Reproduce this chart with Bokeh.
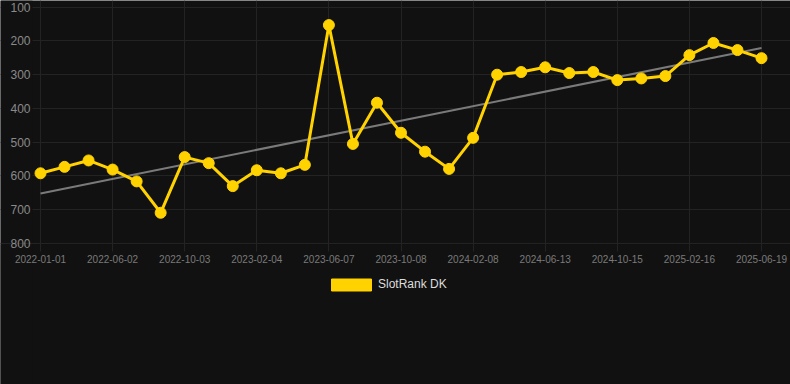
import numpy as np
from bokeh.plotting import figure
from bokeh.models import Range1d, FixedTicker, Legend, LegendItem, ColumnDataSource, BoxAnnotation
from bokeh.embed import file_html
from bokeh.resources import INLINE

# ---- data ----
tick_labels = ["2022-01-01", "2022-06-02", "2022-10-03", "2023-02-04", "2023-06-07",
               "2023-10-08", "2024-02-08", "2024-06-13", "2024-10-15", "2025-02-16",
               "2025-06-19"]
rank_values = [592, 573, 554, 581, 616, 709, 544, 562, 630, 583, 592, 567, 153,
               505, 383, 472, 528, 579, 487, 300, 292, 278, 295, 292, 316, 311,
               304, 242, 206, 227, 251]
series_name = "SlotRank DK"
y_ticks = [100, 200, 300, 400, 500, 600, 700, 800]

idx = list(range(len(rank_values)))
tick_positions = idx[::3]

# trend line (least squares)
slope, intercept = np.polyfit(idx, rank_values, 1)
trend_x = [idx[0], idx[-1]]
trend_y = [intercept + slope * x for x in trend_x]

BG = "#111111"
GRID = "#232323"
GOLD = "#FFD200"
FONT = "Liberation Sans"

W, H = 790, 384
# pixel layout of the value area: index 0 at px 40, index 30 at px 761;
# value 100 at px 6.7, value 800 at px 243
px_per_x = (761 - 40) / 30.0
px_per_y = (243 - 6.7) / 700.0
X0 = -40 / px_per_x
X1 = (W - 40) / px_per_x
Y_TOP = 100 - 6.7 / px_per_y
Y_BOTTOM = 100 + (H - 6.7) / px_per_y
X_AXIS_AT = (32 - 40) / px_per_x

p = figure(width=W, height=H, output_backend="svg", toolbar_location=None,
           x_range=Range1d(X0, X1), y_range=Range1d(Y_BOTTOM, Y_TOP),
           min_border_left=0, min_border_right=0, min_border_top=0,
           min_border_bottom=0)
p.background_fill_color = BG
p.border_fill_color = BG
p.outline_line_color = None

# grids
p.xgrid.ticker = FixedTicker(ticks=tick_positions)
p.ygrid.ticker = FixedTicker(ticks=y_ticks)
p.xgrid.grid_line_color = GRID
p.ygrid.grid_line_color = GRID

# mask the grid outside the value area
p.add_layout(BoxAnnotation(top=803, bottom=Y_BOTTOM, left=X0, right=X1,
                           fill_color=BG, fill_alpha=1.0, line_color=None,
                           line_alpha=0, level="underlay"))
p.add_layout(BoxAnnotation(top=Y_TOP, bottom=Y_BOTTOM, left=X0, right=X_AXIS_AT,
                           fill_color=BG, fill_alpha=1.0, line_color=None,
                           line_alpha=0, level="underlay"))

# x axis, drawn at value 800
p.xaxis.fixed_location = 800
p.xaxis.ticker = FixedTicker(ticks=tick_positions)
p.xaxis.major_label_overrides = {pos: lab for pos, lab in zip(tick_positions, tick_labels)}
p.xaxis.axis_line_color = GRID
p.xaxis.major_tick_line_color = GRID
p.xaxis.major_tick_out = 8
p.xaxis.major_tick_in = 0
p.xaxis.minor_tick_line_color = None
p.xaxis.major_label_text_color = "#7a7a7a"
p.xaxis.major_label_text_font = FONT
p.xaxis.major_label_text_font_size = "10px"
p.xaxis.major_label_standoff = 3

# y axis, drawn at left edge of the value area
p.yaxis.fixed_location = X_AXIS_AT
p.yaxis.ticker = FixedTicker(ticks=y_ticks)
p.yaxis.axis_line_color = None
p.yaxis.axis_line_alpha = 0
p.yaxis.major_tick_line_color = None
p.yaxis.major_tick_in = 0
p.yaxis.major_tick_out = 0
p.yaxis.minor_tick_line_color = None
p.yaxis.minor_tick_in = 0
p.yaxis.minor_tick_out = 0
p.yaxis.major_label_text_color = "#8a8a8a"
p.yaxis.major_label_text_font = FONT
p.yaxis.major_label_text_font_size = "12px"
p.yaxis.major_label_standoff = 2

# trend line
p.line(trend_x, trend_y, line_color="#7a7a7a", line_width=2)

# series
src = ColumnDataSource(dict(x=idx, y=rank_values))
p.line("x", "y", source=src, line_color=GOLD, line_width=3)
p.scatter("x", "y", source=src, size=11, fill_color=GOLD, line_color=GOLD)

# legend swatch renderer (rectangle, kept off the visible range)
swatch = p.quad(left=[X0 - 5], right=[X0 - 4], top=[100], bottom=[200],
                fill_color=GOLD, line_color=GOLD)
legend = Legend(items=[LegendItem(label=series_name, renderers=[swatch])],
                orientation="horizontal", location=(326, H - 291.5),
                glyph_width=50, glyph_height=15,
                label_text_color="#dddddd", label_text_font=FONT,
                label_text_font_size="12px", label_standoff=2,
                background_fill_alpha=0, border_line_color=None,
                padding=6, margin=0, spacing=0)
p.add_layout(legend, "center")

open("out.html", "w").write(file_html(p, INLINE))
